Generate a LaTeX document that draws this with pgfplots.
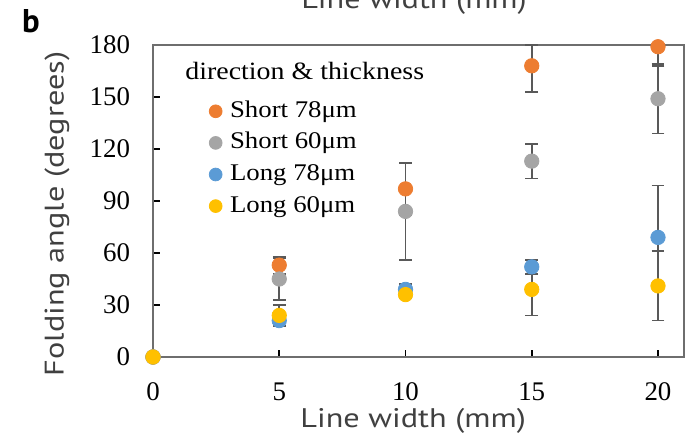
\documentclass[border=0pt]{standalone}
\usepackage{fontspec}
\setmainfont{Liberation Serif}
\newfontfamily\labfont[FakeStretch=1.2]{PT Sans}
\newfontfamily\bfont{PT Sans}
\newfontfamily\legfont[FakeStretch=1.12]{Liberation Serif}
\usepackage{pgfplots}
\pgfplotsset{compat=1.18}
\definecolor{cOr}{HTML}{ED7D31}
\definecolor{cGr}{HTML}{A5A5A5}
\definecolor{cBl}{HTML}{5B9BD5}
\definecolor{cYe}{HTML}{FFC000}
\definecolor{errc}{HTML}{595959}
\definecolor{labc}{HTML}{404040}
\definecolor{framec}{HTML}{6E6E6E}
\pgfplotsset{
  eb/.style={only marks, mark=*, mark size=3.6bp, mark options={fill=#1, draw=#1},
    error bars/.cd, y dir=both, y explicit,
    error bar style={color=errc, line width=0.9bp},
    error mark options={rotate=90, mark size=3.2bp, line width=0.9bp, errc}}
}
\begin{document}
\begin{tikzpicture}
\useasboundingbox (0,0) rectangle (346bp,216.5bp);
\begin{axis}[
  at={(76.5bp,38bp)}, anchor=south west,
  scale only axis, width=265.5bp, height=156bp,
  xmin=0, xmax=21.03, ymin=0, ymax=180,
  xtick={0,5,10,15,20}, ytick={0,30,60,90,120,150,180},
  clip=false,
  axis line style={framec, line width=1.1bp},
  tick style={black, line width=0.8bp},
  xtick pos=bottom, ytick pos=left,
  tick align=inside,
  major tick length=3.5bp,
  /pgf/number format/assume math mode=true,
  ticklabel style={font=\fontsize{13.5}{15}\selectfont, text=black},
  yticklabel style={xshift=-8bp},
  xticklabel style={yshift=-9.5bp},
  xlabel={Line width (mm)}, ylabel={Folding angle (degrees)},
  xlabel style={font=\labfont\fontsize{13.5}{15}\selectfont, text=labc, at={(axis description cs:0.49,-0.205)}, anchor=center},
  ylabel style={font=\labfont\fontsize{13.5}{15}\selectfont, text=labc, at={(axis description cs:-0.181,0.458)}, anchor=center, rotate=0},
  legend style={draw=none, fill=none, at={(axis description cs:0.094,0.84)}, anchor=north west,
    font=\legfont\fontsize{12}{14}\selectfont, text=black,
    nodes={inner sep=0pt, text height=9bp, text depth=3bp},
    row sep=3.8bp, cells={anchor=west},
    /tikz/every odd column/.append style={column sep=4bp}},
  legend image code/.code={\draw[#1,mark size=3.2bp] plot coordinates {(0bp,0bp)};},
]
\addplot[eb=cOr] table[x=x, y=y, y error plus=ep, y error minus=em] {
x y ep em
0 0 0 0
5 53 5 5
10 97 15 15
15 168 12 15
20 179 1 11
};
\addlegendentry{Short 78μm}
\addplot[eb=cGr] table[x=x, y=y, y error=e] {
x y e
0 0 0
5 45 12
10 84 28
15 113 10
20 149 20
};
\addlegendentry{Short 60μm}
\addplot[eb=cBl] table[x=x, y=y, y error=e] {
x y e
0 0 0
5 21 3
10 39 3
15 52 4
20 69 30
};
\addlegendentry{Long 78μm}
\addplot[eb=cYe] table[x=x, y=y, y error=e] {
x y e
0 0 0
5 24 6
10 36 2
15 39 15
20 41 20
};
\addlegendentry{Long 60μm}
\node[anchor=base west, font=\legfont\fontsize{12.5}{14}\selectfont, inner sep=0pt] at (axis cs:1.27,160) {direction \& thickness};
\end{axis}
\node[font=\bfont\bfseries\fontsize{16.5}{19}\selectfont, anchor=base] at (15.5bp,200bp) {b};
\node[font=\labfont\fontsize{13.5}{15}\selectfont, text=labc, anchor=base] at (207bp,212bp) {Line width (mm)};
\end{tikzpicture}
\end{document}
